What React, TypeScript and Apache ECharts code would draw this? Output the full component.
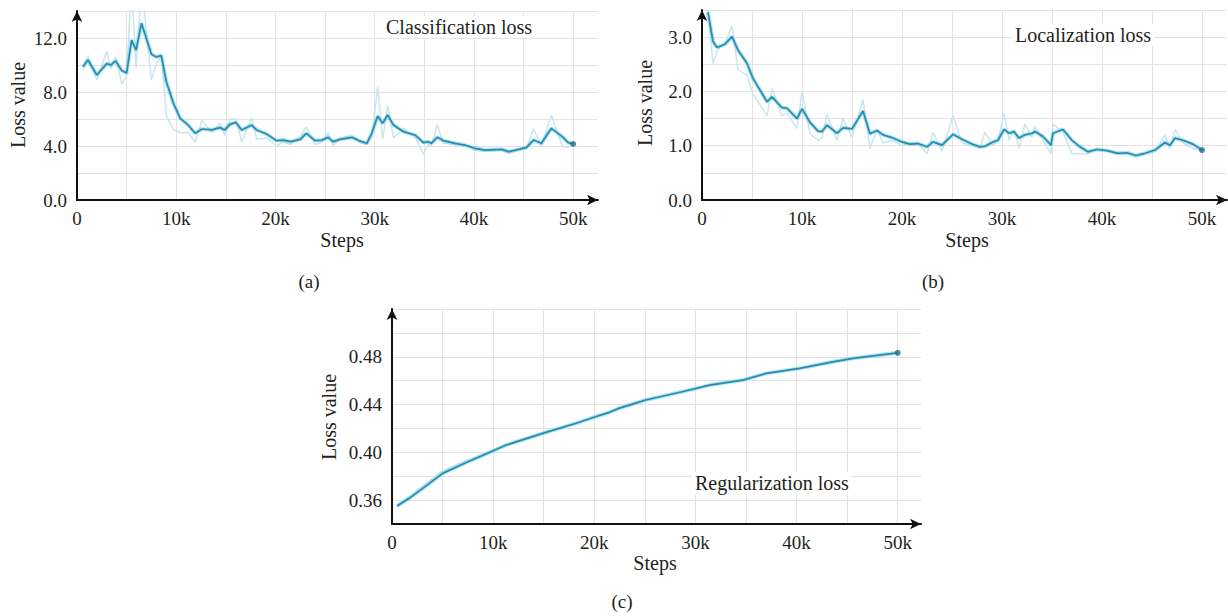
import React, { useEffect, useRef } from "react";
import * as echarts from "echarts";

// ---------- data ----------
// (a) Classification loss (steps in thousands)
const clsSteps = [0.6,1.1,2.0,3.0,3.4,3.9,4.5,5.0,5.5,5.95,6.5,7.5,8.0,8.5,9.0,9.7,10.4,11.2,11.9,12.6,13.6,14.4,14.9,15.4,16.0,16.6,17.6,18.1,19.1,20.1,20.8,21.5,22.5,23.1,24.0,24.7,25.3,25.8,26.5,27.7,28.4,29.2,29.7,30.3,30.8,31.3,31.9,32.9,34.1,34.9,35.4,35.7,36.3,36.9,38.1,39.1,40.1,41.1,42.8,43.5,44.5,45.3,46.0,46.8,47.8,48.9,49.5,50.0];
const clsSmooth = [9.87,10.37,9.26,10.1,10.0,10.3,9.6,9.4,11.85,11.1,13.1,10.8,10.6,10.7,8.76,7.2,6.05,5.55,4.94,5.26,5.19,5.36,5.19,5.6,5.75,5.19,5.55,5.19,4.89,4.4,4.44,4.32,4.49,4.94,4.4,4.44,4.64,4.32,4.49,4.64,4.4,4.2,4.94,6.22,5.68,6.3,5.55,5.06,4.8,4.25,4.32,4.2,4.64,4.4,4.2,4.07,3.83,3.7,3.75,3.58,3.75,3.9,4.44,4.2,5.31,4.69,4.25,4.15];
const clsRaw = [9.6,10.7,8.9,11.0,9.7,10.6,8.6,9.2,16,9.8,16,8.9,10.1,10.7,6.3,5.2,5.0,5.0,4.3,5.9,5.0,5.7,4.8,6.0,6.0,4.3,6.1,4.5,4.6,4.0,4.3,4.1,4.7,5.4,4.1,4.3,5.0,4.0,4.6,4.8,4.3,4.1,4.6,8.4,4.5,7.0,4.6,5.3,4.6,3.4,4.1,4.0,5.6,4.2,4.1,4.0,3.7,3.6,3.7,3.45,3.7,3.8,5.3,4.0,6.3,4.0,3.9,4.1];

// (b) Localization loss
const locSteps = [0.6,1.1,1.5,2.3,3.0,3.6,4.5,5.1,6.5,7.0,8.0,8.5,9.5,10.0,10.8,11.6,12.0,12.5,13.5,14.1,15.0,16.1,16.8,17.5,18.1,19.0,20.0,20.8,21.6,22.5,23.1,24.0,25.1,26.0,27.0,27.8,28.3,29.1,29.6,30.2,30.7,31.2,31.7,32.3,33.0,33.3,34.1,34.9,35.1,36.1,37.0,37.8,38.6,39.5,40.5,41.6,42.5,43.4,44.3,45.3,46.3,46.8,47.3,48.1,49.1,50.0];
const locSmooth = [3.46,2.92,2.81,2.87,3.01,2.76,2.52,2.24,1.81,1.9,1.7,1.69,1.5,1.68,1.43,1.27,1.26,1.38,1.23,1.33,1.31,1.64,1.22,1.28,1.2,1.15,1.07,1.03,1.04,0.98,1.07,1.01,1.21,1.12,1.03,0.98,0.99,1.07,1.1,1.3,1.23,1.26,1.14,1.2,1.23,1.26,1.17,1.01,1.23,1.3,1.1,0.98,0.89,0.93,0.91,0.86,0.87,0.82,0.86,0.92,1.06,1.01,1.14,1.1,1.03,0.92];
const locRaw = [3.5,2.5,2.75,2.9,3.2,2.4,2.3,1.95,1.55,2.05,1.55,1.6,1.32,2.0,1.22,1.1,1.15,1.58,1.1,1.5,1.15,1.85,0.95,1.3,1.05,1.1,1.0,1.05,1.05,0.85,1.25,0.9,1.55,1.05,1.0,0.95,1.25,1.0,1.1,1.6,1.1,1.3,0.95,1.4,1.15,1.35,1.1,0.85,1.4,1.25,0.85,0.85,0.85,0.95,0.9,0.85,0.85,0.8,0.85,0.9,1.2,0.95,1.3,1.05,0.95,0.9];

// (c) Regularization loss
const regSteps = [0.5,1.7,3.7,5.0,7.3,9.8,11.3,14.9,18.2,20.2,21.5,22.5,23.8,25.1,28.7,31.4,34.7,37.0,40.3,43.6,45.6,50.0];
const regSmooth = [0.355,0.3615,0.374,0.3824,0.3913,0.4005,0.4061,0.4159,0.4243,0.430,0.4335,0.437,0.4404,0.4438,0.4507,0.4563,0.4605,0.4661,0.4703,0.4758,0.4787,0.4833];
const regRaw = [0.356,0.363,0.376,0.3845,0.393,0.4015,0.4065,0.4165,0.4245,0.4305,0.434,0.4375,0.4415,0.4445,0.451,0.4565,0.461,0.4665,0.4705,0.4762,0.479,0.4836];

// tick labels
const xTickValues = [0, 10, 20, 30, 40, 50];
const xTickLabels = ["0", "10k", "20k", "30k", "40k", "50k"];
const yTicksA = [0, 4, 8, 12];
const yTicksB = [0, 1, 2, 3];
const yTicksC = [0.36, 0.4, 0.44, 0.48];

const titles = ["Classification loss", "Localization loss", "Regularization loss"];
const panelTags = ["(a)", "(b)", "(c)"];

// ---------- styling ----------
const SERIF = '"Liberation Serif", "DejaVu Serif", serif';
const TEXT = "#231f20";
const GRIDC = "#e3e3e3";

function fmtFromList(values: number[], digits: number) {
  return (v: number) => {
    const hit = values.find((t) => Math.abs(t - v) < 1e-6);
    return hit === undefined ? "" : hit.toFixed(digits);
  };
}

function xAxis(gridIndex: number, max: number) {
  return {
    type: "value",
    gridIndex,
    min: 0,
    max,
    interval: 5,
    axisLine: {
      show: true,
      onZero: false,
      symbol: ["none", "arrow"],
      symbolSize: [8, 11],
      lineStyle: { color: "#111", width: 2 },
    },
    axisTick: { show: false },
    splitLine: { show: true, showMaxLine: false, lineStyle: { color: GRIDC, width: 1 } },
    axisLabel: {
      margin: 9,
      fontSize: 19,
      fontFamily: SERIF,
      color: TEXT,
      showMaxLabel: false,
      formatter: (v: number) => {
        const i = xTickValues.findIndex((t) => Math.abs(t - v) < 1e-6);
        return i < 0 ? "" : xTickLabels[i];
      },
    },
  };
}

function yAxis(gridIndex: number, min: number, max: number, interval: number, ticks: number[], digits: number) {
  return {
    type: "value",
    gridIndex,
    min,
    max,
    interval,
    axisLine: {
      show: true,
      onZero: false,
      symbol: ["none", "arrow"],
      symbolSize: [8, 11],
      lineStyle: { color: "#111", width: 2 },
    },
    axisTick: { show: false },
    splitLine: { show: true, lineStyle: { color: GRIDC, width: 1 } },
    axisLabel: {
      margin: 10,
      fontSize: 19,
      fontFamily: SERIF,
      color: TEXT,
      formatter: fmtFromList(ticks, digits),
    },
  };
}

function pairs(steps: number[], vals: number[]) {
  return steps.map((s, i) => [s, vals[i]]);
}

function seriesFor(idx: number, steps: number[], smooth: number[], raw: number[]) {
  const last = [[steps[steps.length - 1], smooth[smooth.length - 1]]];
  return [
    {
      type: "line",
      xAxisIndex: idx,
      yAxisIndex: idx,
      data: pairs(steps, raw),
      showSymbol: false,
      lineStyle: { color: "#c3e3ec", width: 1.5, opacity: 0.9 },
      z: 1,
      silent: true,
    },
    {
      type: "line",
      xAxisIndex: idx,
      yAxisIndex: idx,
      data: pairs(steps, smooth),
      showSymbol: false,
      lineStyle: { color: "#6fd2ea", width: 4, opacity: 0.55 },
      z: 2,
      silent: true,
    },
    {
      type: "line",
      xAxisIndex: idx,
      yAxisIndex: idx,
      data: pairs(steps, smooth),
      showSymbol: false,
      lineStyle: { color: "#2a8bad", width: 1.7 },
      z: 3,
      silent: true,
    },
    {
      type: "scatter",
      xAxisIndex: idx,
      yAxisIndex: idx,
      data: last,
      symbol: "circle",
      symbolSize: 6,
      itemStyle: { color: "#1f6f8f" },
      z: 4,
      silent: true,
    },
  ];
}

function txt(text: string, x: number, y: number, size: number, align = "center", rotation = 0, bg = false) {
  return {
    type: "text",
    x,
    y,
    rotation,
    z: 10,
    style: {
      text,
      fontSize: size,
      fontFamily: SERIF,
      fill: TEXT,
      align,
      verticalAlign: "middle",
      ...(bg ? { backgroundColor: "#ffffff", padding: [1, 3] } : {}),
    },
  };
}

export default function App() {
  const ref = useRef<HTMLDivElement>(null);

  useEffect(() => {
    if (!ref.current) return;
    const chart = echarts.init(ref.current, null, { renderer: "svg" });
    chart.setOption({
      animation: false,
      backgroundColor: "#ffffff",
      grid: [
        { left: 77, top: 11, width: 521, height: 189 },
        { left: 702, top: 10, width: 525, height: 190 },
        { left: 392, top: 309, width: 529, height: 215 },
      ],
      xAxis: [xAxis(0, 52.5), xAxis(1, 52.5), xAxis(2, 52.3)],
      yAxis: [
        yAxis(0, 0, 14, 2, yTicksA, 1),
        yAxis(1, 0, 3.5, 0.5, yTicksB, 1),
        yAxis(2, 0.34, 0.52, 0.02, yTicksC, 2),
      ],
      series: [
        ...seriesFor(0, clsSteps, clsSmooth, clsRaw),
        ...seriesFor(1, locSteps, locSmooth, locRaw),
        ...seriesFor(2, regSteps, regSmooth, regRaw),
      ],
      graphic: [
        txt(titles[0], 383, 27, 20, "left", 0, true),
        txt(titles[1], 1012, 35, 20, "left", 0, true),
        txt(titles[2], 692, 483, 20, "left", 0, true),
        txt("Loss value", 18, 105, 20, "center", Math.PI / 2),
        txt("Loss value", 645, 103, 20, "center", Math.PI / 2),
        txt("Loss value", 329, 417, 20, "center", Math.PI / 2),
        txt("Steps", 342, 240, 20),
        txt("Steps", 967, 240, 20),
        txt("Steps", 655, 563, 20),
        txt(panelTags[0], 309, 281, 19),
        txt(panelTags[1], 933, 281, 19),
        txt(panelTags[2], 622, 601, 19),
      ],
    });
    return () => chart.dispose();
  }, []);

  return (
    <div
      ref={ref}
      style={{ position: "absolute", left: 0, top: 0, width: 1228, height: 616 }}
    />
  );
}
